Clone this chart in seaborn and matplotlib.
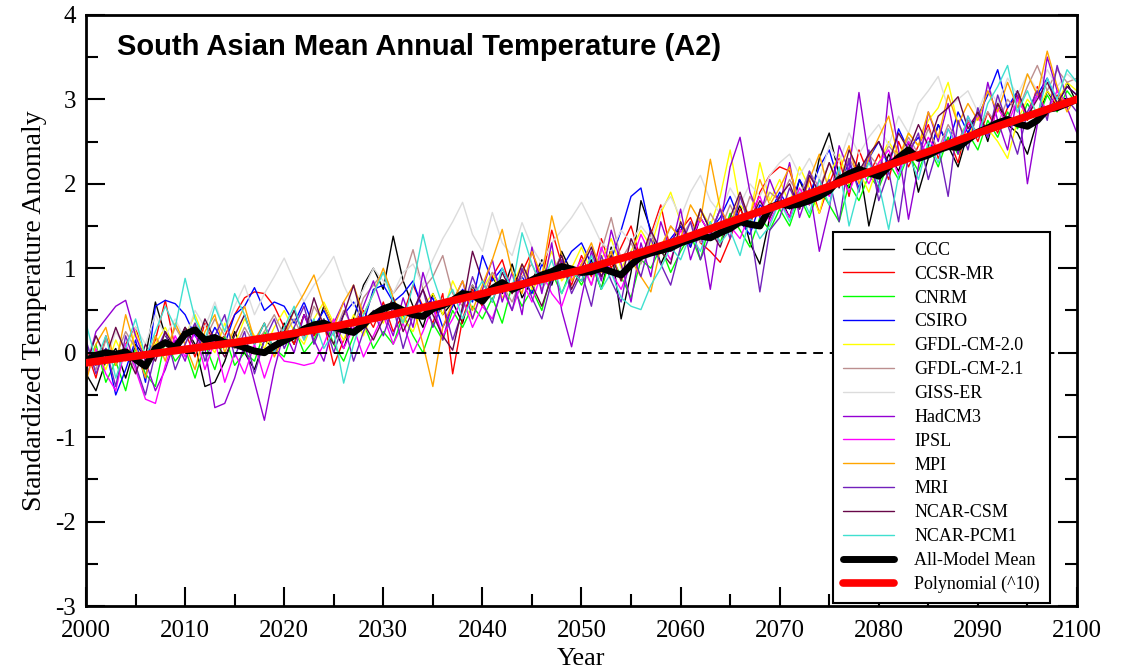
import numpy as np
import pandas as pd
import matplotlib
matplotlib.use("Agg")
import matplotlib.pyplot as plt
from matplotlib.ticker import MultipleLocator
import seaborn as sns

# ============= data =============
years = list(range(2000, 2101))
polyYears = list(range(2000, 2101, 5))

models = ["CCC", "CCSR-MR", "CNRM", "CSIRO", "GFDL-CM-2.0", "GFDL-CM-2.1", "GISS-ER",
          "HadCM3", "IPSL", "MPI", "MRI", "NCAR-CSM", "NCAR-PCM1"]
# xmgrace default colour map
modelColors = ["#000000", "#ff0000", "#00ff00", "#0000ff", "#ffff00", "#bc8f8f", "#dcdcdc",
               "#9400d3", "#ff00ff", "#ffa500", "#7221bc", "#670748", "#40e0d0"]

ccc = [-0.25, -0.45, -0.10, 0.05, -0.30, 0.10, -0.05, 0.60, 0.20, 0.05,
       0.30, 0.10, -0.40, -0.35, -0.10, 0.25, 0.00, -0.20, 0.15, 0.05,
       0.35, 0.10, 0.45, 0.20, 0.55, 0.30, 0.05, 0.40, 0.80, 1.00,
       0.75, 1.38, 0.85, 0.55, 0.30, 0.70, 0.45, 0.60, 0.35, 0.80,
       0.55, 0.90, 0.70, 1.05, 0.65, 0.85, 1.10, 0.80, 1.20, 0.95,
       0.85, 1.10, 0.75, 1.25, 0.40, 0.95, 1.80, 1.45, 1.05, 1.30,
       1.50, 1.25, 1.60, 1.40, 1.70, 1.45, 1.75, 1.30, 1.05, 1.60,
       1.85, 1.60, 2.05, 1.75, 2.30, 2.60, 2.10, 1.95, 2.25, 1.50,
       2.00, 2.35, 2.15, 2.50, 1.90, 2.30, 2.70, 2.45, 2.20, 2.60,
       2.85, 2.50, 2.95, 2.70, 2.60, 2.35, 2.75, 3.10, 2.90, 3.20,
       2.95]
ccsr = [0.05, -0.30, 0.20, -0.15, 0.10, 0.30, -0.10, 0.15, 0.62, 0.05,
        0.25, -0.05, 0.35, 0.10, 0.20, 0.45, 0.65, 0.72, 0.70, 0.55,
        0.30, 0.10, 0.45, 0.20, 0.35, -0.15, 0.15, 0.35, 0.50, 0.30,
        0.60, 0.25, 0.45, 0.80, 0.55, 0.35, 0.70, -0.25, 0.40, 0.75,
        0.55, 0.90, 1.10, 0.70, 0.95, 1.20, 0.85, 1.45, 1.05, 0.80,
        1.15, 0.90, 1.35, 1.00, 1.25, 1.50, 1.10, 1.40, 1.75, 1.20,
        1.45, 1.60, 1.30, 1.20, 1.07, 1.35, 1.70, 1.50, 1.90, 2.10,
        2.20, 2.15, 1.80, 2.05, 1.65, 2.00, 2.30, 1.85, 2.40, 2.10,
        2.35, 2.05, 2.50, 2.20, 2.45, 2.70, 2.30, 2.55, 2.25, 2.75,
        2.50, 2.85, 2.60, 2.90, 3.05, 2.75, 3.15, 2.80, 3.05, 2.90,
        3.05]
cnrm = [-0.20, 0.10, -0.35, -0.10, -0.45, 0.05, -0.25, -0.40, 0.15, -0.10,
        0.05, -0.30, 0.10, -0.20, 0.20, -0.15, 0.00, -0.10, 0.25, 0.05,
        -0.05, 0.30, 0.00, 0.15, 0.40, 0.10, -0.10, 0.20, 0.35, 0.05,
        0.25, 0.10, 0.45, 0.20, 0.00, 0.35, 0.15, 0.50, 0.30, 0.55,
        0.40, 0.65, 0.35, 0.80, 0.55, 0.75, 0.50, 0.95, 0.70, 1.00,
        0.80, 1.05, 0.75, 1.15, 0.90, 0.65, 1.10, 1.00, 1.25, 0.95,
        1.20, 1.40, 1.10, 1.55, 1.30, 1.65, 1.45, 1.25, 1.60, 1.45,
        1.70, 1.50, 1.85, 1.60, 1.95, 1.75, 1.55, 2.00, 1.80, 2.10,
        1.95, 2.25, 2.05, 2.35, 2.15, 2.45, 2.20, 2.55, 2.35, 2.60,
        2.40, 2.75, 2.55, 2.85, 2.65, 2.95, 2.75, 3.05, 2.85, 3.10,
        2.95]
csiro = [0.10, -0.15, 0.05, -0.50, -0.20, 0.15, -0.35, 0.55, 0.62, 0.58,
         0.45, 0.20, 0.05, 0.30, 0.10, 0.45, 0.55, 0.77, 0.50, 0.60,
         0.55, 0.35, 0.60, 0.30, 0.50, 0.25, 0.45, 0.60, 0.35, 0.75,
         0.80, 0.60, 0.70, 0.85, 0.50, 0.65, 0.30, 0.55, 0.75, 0.60,
         1.15, 0.85, 1.00, 0.75, 0.90, 0.70, 1.05, 0.85, 1.00, 1.20,
         1.30, 1.05, 0.90, 1.10, 1.45, 1.85, 1.95, 1.40, 1.20, 1.35,
         1.50, 1.25, 1.70, 1.45, 1.60, 1.85, 1.55, 1.40, 1.75, 1.65,
         1.90, 1.70, 2.05, 1.85, 2.20, 2.40, 2.00, 2.25, 1.95, 2.30,
         2.50, 2.20, 2.65, 2.40, 2.55, 2.30, 2.70, 2.45, 2.85, 2.60,
         2.80, 3.05, 3.35, 2.90, 3.10, 2.80, 3.05, 3.25, 2.95, 3.15,
         3.05]
gfdl20 = [-0.30, 0.05, -0.20, 0.15, -0.10, 0.25, -0.05, 0.10, 0.30, 0.05,
          0.20, 0.45, 0.15, 0.00, 0.35, 0.10, 0.40, 0.20, 0.05, 0.30,
          0.50, 0.25, 0.10, 0.40, 0.60, 0.35, 0.15, 0.45, 0.20, 0.50,
          0.35, 0.65, 0.40, 0.25, 0.55, 0.70, 0.45, 0.85, 0.60, 0.40,
          0.75, 0.95, 0.65, 0.80, 1.05, 0.75, 0.90, 1.20, 0.85, 1.00,
          1.25, 0.95, 1.10, 1.35, 1.00, 1.20, 1.45, 1.25, 1.65, 1.90,
          1.55, 1.35, 1.70, 1.50, 1.85, 2.40, 1.75, 1.60, 2.25, 1.80,
          2.05, 1.75, 2.20, 1.95, 1.65, 2.10, 2.35, 2.00, 2.15, 1.90,
          2.25, 2.50, 2.30, 2.60, 2.45, 2.75, 2.90, 3.20, 2.70, 2.55,
          2.80, 2.65, 2.50, 2.30, 2.75, 3.00, 2.85, 3.10, 2.95, 3.20,
          3.10]
gfdl21 = [0.00, -0.20, 0.15, -0.05, 0.25, 0.05, -0.15, 0.20, 0.00, 0.30,
          0.10, 0.35, 0.15, 0.40, 0.20, 0.05, 0.30, 0.10, 0.25, 0.45,
          0.20, 0.40, 0.15, 0.55, 0.35, 0.20, 0.50, 0.30, 0.65, 0.80,
          0.95, 0.70, 0.85, 1.22, 0.75, 0.90, 1.15, 0.70, 0.55, 0.80,
          0.65, 0.95, 0.80, 0.60, 0.90, 1.05, 0.75, 0.95, 1.15, 0.85,
          1.05, 0.80, 1.20, 1.60, 1.10, 1.30, 1.05, 1.40, 1.20, 1.50,
          1.35, 1.55, 1.30, 1.65, 1.45, 1.75, 1.50, 1.85, 1.65, 1.90,
          1.80, 2.05, 1.85, 2.15, 1.95, 2.25, 2.00, 2.30, 2.10, 2.35,
          2.20, 2.45, 2.30, 2.55, 2.35, 2.65, 2.40, 2.70, 2.50, 2.75,
          2.60, 2.85, 2.70, 3.00, 2.85, 3.15, 3.40, 3.10, 3.35, 3.20,
          3.25]
giss = [-0.05, 0.20, -0.10, 0.25, 0.05, 0.30, 0.10, 0.45, 0.20, 0.40,
        0.15, 0.50, 0.30, 0.60, 0.25, 0.55, 0.80, 0.45, 0.70, 0.90,
        1.12, 0.85, 0.60, 0.80, 0.95, 1.14, 0.80, 0.55, 0.75, 1.00,
        0.85, 0.70, 0.95, 1.05, 0.80, 1.10, 1.35, 1.55, 1.78, 1.40,
        1.20, 1.66, 1.30, 1.15, 1.54, 1.25, 1.05, 1.30, 1.45, 1.60,
        1.78, 1.55, 1.30, 1.20, 1.45, 1.30, 1.50, 1.35, 1.70, 1.85,
        1.60, 1.90, 2.10, 1.80, 1.65, 1.95, 1.75, 2.00, 1.85, 2.10,
        2.25, 2.35, 2.10, 2.30, 2.05, 2.45, 2.25, 2.60, 2.35, 2.55,
        2.70, 2.45, 2.80, 2.60, 2.95, 3.10, 3.27, 2.90, 3.00, 3.10,
        2.85, 3.15, 2.95, 3.25, 3.05, 3.30, 3.10, 3.35, 3.15, 3.30,
        3.20]
hadcm3 = [-0.20, 0.25, 0.40, 0.55, 0.62, 0.20, -0.10, -0.45, -0.20, 0.15,
          -0.10, 0.30, 0.05, -0.65, -0.60, -0.30, 0.10, -0.35, -0.80, -0.20,
          0.25, 0.00, 0.45, 0.15, -0.10, 0.35, 0.60, 0.20, 0.55, 0.85,
          0.50, 0.20, 0.65, 0.30, 0.95, 0.55, 0.15, 0.60, 0.85, 0.40,
          0.75, 1.10, 0.60, 0.95, 0.45, 1.25, 0.70, 1.30, 0.50, 0.07,
          0.65, 1.20, 0.85, 1.45, 1.05, 0.60, 1.30, 0.90, 1.55, 1.20,
          1.70, 1.10, 1.45, 0.75, 1.50, 2.20, 2.55, 1.90, 1.60, 2.05,
          1.75, 2.25, 1.60, 1.95, 1.20, 1.70, 2.45, 2.15, 3.08, 2.30,
          1.90, 3.08, 2.40, 1.58, 2.20, 2.85, 2.50, 2.95, 2.35, 2.80,
          2.55, 3.20, 2.75, 2.40, 3.05, 2.00, 2.70, 3.50, 3.10, 2.90,
          2.60]
ipsl = [-0.30, 0.05, -0.25, -0.45, 0.10, -0.20, -0.55, -0.60, -0.15, 0.20,
        -0.05, 0.25, -0.20, 0.15, -0.35, 0.00, -0.25, 0.10, -0.30, 0.05,
        -0.10, -0.12, -0.15, -0.12, 0.10, 0.40, 0.05, 0.30, -0.05, 0.20,
        0.45, 0.10, 0.35, 0.00, 0.25, 0.55, 0.20, 0.40, 0.65, 0.30,
        0.55, 0.40, 0.75, 0.50, 0.85, 0.60, 0.95, 0.70, 0.55, 0.90,
        1.10, 0.80, 1.25, 0.95, 0.75, 1.05, 1.40, 1.15, 1.30, 1.10,
        1.45, 1.30, 1.60, 1.40, 1.70, 1.50, 1.35, 1.65, 1.85, 1.55,
        1.80, 1.60, 1.95, 1.75, 2.05, 1.85, 2.15, 1.90, 2.20, 2.00,
        2.25, 2.40, 2.10, 2.50, 2.30, 2.55, 2.35, 2.65, 2.45, 2.70,
        2.80, 2.55, 2.90, 2.70, 3.00, 2.80, 3.05, 2.85, 3.10, 2.95,
        3.00]
mpi = [-0.35, 0.10, 0.30, -0.15, 0.45, 0.05, -0.30, 0.20, -0.10, 0.35,
       0.10, -0.20, 0.25, 0.45, 0.00, 0.30, 0.55, 0.15, 0.35, -0.05,
       0.20, 0.50, 0.70, 0.92, 0.55, 0.30, 0.60, 0.80, 0.45, 0.70,
       1.00, 0.65, 0.35, 0.55, 0.10, -0.40, 0.30, 0.60, 0.85, 0.50,
       0.80, 1.10, 1.46, 0.95, 0.70, 1.20, 0.90, 1.62, 1.15, 0.85,
       1.05, 1.30, 0.95, 1.20, 0.85, 1.10, 0.90, 0.72, 1.25, 1.50,
       1.35, 1.75, 1.55, 2.29, 1.70, 1.50, 1.85, 1.60, 2.05, 1.75,
       1.95, 2.20, 1.70, 2.05, 2.35, 1.90, 2.15, 2.45, 2.00, 2.30,
       2.55, 2.80, 2.30, 2.60, 2.45, 2.85, 2.55, 3.05, 2.70, 2.95,
       2.75, 3.10, 2.85, 3.20, 2.90, 3.30, 3.05, 3.57, 3.15, 2.85,
       3.05]
mri = [0.15, -0.25, 0.05, -0.40, 0.20, -0.15, -0.50, 0.00, 0.25, -0.20,
       0.10, 0.35, -0.10, 0.20, 0.45, -0.05, 0.25, -0.25, 0.15, 0.40,
       0.05, 0.30, 0.55, 0.10, 0.40, 0.00, 0.35, -0.10, 0.25, 0.50,
       0.20, 0.55, 0.05, 0.45, 0.75, 0.30, 0.60, 0.15, 0.50, 0.90,
       0.60, 0.35, 0.80, 0.50, 1.00, 0.65, 0.40, 0.85, 1.10, 0.70,
       0.95, 0.55, 1.15, 0.85, 0.60, 1.20, 0.90, 1.35, 1.05, 0.80,
       1.25, 1.55, 1.10, 1.40, 1.70, 1.35, 1.85, 1.50, 0.72, 1.45,
       1.60, 1.95, 1.70, 2.15, 1.85, 2.05, 1.55, 2.30, 1.90, 2.40,
       1.80, 2.15, 1.55, 2.35, 2.60, 2.05, 2.45, 1.85, 2.75, 2.40,
       2.90, 2.55, 3.05, 2.70, 2.35, 2.85, 3.10, 2.75, 3.40, 3.00,
       2.85]
ncarCsm = [-0.15, 0.20, -0.05, 0.30, 0.00, -0.25, 0.10, -0.10, 0.25, 0.05,
           0.30, 0.05, 0.40, 0.15, -0.05, 0.20, 0.45, 0.10, 0.35, 0.00,
           0.25, 0.50, 0.20, 0.65, 0.30, 0.10, 0.45, 0.80, 0.35, 0.15,
           0.40, 0.65, 0.25, 0.50, 0.75, 0.45, 0.20, 0.03, 0.55, 1.20,
           0.85, 0.60, 0.95, 0.70, 1.05, 0.80, 0.55, 0.90, 1.15, 0.75,
           1.00, 1.25, 0.90, 1.15, 0.85, 1.35, 1.10, 1.45, 1.20, 1.05,
           1.55, 1.30, 1.70, 1.45, 1.25, 1.60, 1.90, 1.55, 1.80, 1.60,
           1.85, 2.00, 1.70, 2.10, 1.90, 2.25, 1.95, 2.40, 2.15, 2.35,
           2.50, 2.25, 2.60, 2.40, 2.70, 2.45, 2.80, 2.90, 3.03, 2.65,
           2.85, 2.60, 2.95, 2.75, 3.10, 2.80, 3.00, 3.20, 2.95, 3.15,
           3.05]
ncarPcm = [0.35, -0.10, 0.20, -0.30, 0.05, 0.40, -0.05, 0.25, 0.55, 0.30,
           0.88, 0.40, 0.15, 0.55, 0.25, 0.70, 0.45, 0.10, 0.35, 0.00,
           0.30, 0.55, 0.15, 0.40, 0.05, 0.25, -0.36, 0.10, 0.45, 0.70,
           0.95, 0.60, 0.35, 0.80, 1.40, 0.90, 0.55, 0.75, 0.40, 0.65,
           0.85, 0.60, 1.00, 0.75, 1.42, 1.05, 0.80, 1.10, 0.70, 0.95,
           0.85, 1.15, 0.75, 0.95, 0.65, 0.55, 0.51, 0.80, 1.00, 1.25,
           1.10, 1.40, 1.20, 1.55, 1.30, 1.45, 1.15, 1.60, 1.35, 1.50,
           1.80, 1.55, 1.90, 1.65, 2.05, 1.75, 2.20, 1.50, 1.95, 2.25,
           2.00, 1.46, 2.10, 2.35, 2.05, 2.50, 2.25, 2.65, 2.40, 2.80,
           2.55, 2.95, 3.15, 3.40, 2.85, 3.10, 2.80, 3.25, 3.00, 3.35,
           3.20]

allMean = [-0.10, -0.03, 0.00, -0.02, 0.01, -0.08, -0.16, 0.05, 0.12, 0.06,
           0.22, 0.27, 0.15, 0.18, 0.12, 0.10, 0.06, 0.02, 0.00, 0.08,
           0.14, 0.20, 0.28, 0.33, 0.35, 0.30, 0.27, 0.24, 0.33, 0.45,
           0.52, 0.56, 0.50, 0.45, 0.43, 0.52, 0.56, 0.62, 0.70, 0.68,
           0.61, 0.76, 0.83, 0.75, 0.80, 0.86, 0.92, 0.96, 1.02, 0.99,
           0.95, 0.96, 1.00, 0.96, 0.92, 1.04, 1.14, 1.18, 1.21, 1.24,
           1.30, 1.34, 1.38, 1.36, 1.42, 1.47, 1.55, 1.52, 1.50, 1.72,
           1.76, 1.74, 1.76, 1.80, 1.85, 1.92, 2.05, 2.12, 2.17, 2.13,
           2.09, 2.20, 2.31, 2.40, 2.30, 2.34, 2.40, 2.44, 2.43, 2.52,
           2.61, 2.66, 2.72, 2.76, 2.71, 2.68, 2.75, 2.88, 2.90, 2.95,
           3.00]
polyFit = [-0.12, -0.04, 0.04, 0.12, 0.21, 0.31, 0.43, 0.56, 0.70, 0.84, 0.98,
           1.15, 1.34, 1.55, 1.75, 1.97, 2.18, 2.38, 2.60, 2.80, 3.00]

modelSeries = [ccc, ccsr, cnrm, csiro, gfdl20, gfdl21, giss, hadcm3, ipsl, mpi, mri, ncarCsm, ncarPcm]

# ============= plot =============
sns.set_theme(style="ticks")
plt.rcParams["font.family"] = ["Liberation Serif", "DejaVu Serif"]
plt.rcParams["text.color"] = "black"
plt.rcParams["axes.labelcolor"] = "black"
plt.rcParams["axes.unicode_minus"] = False

fig, ax = plt.subplots(figsize=(11.23, 6.72), dpi=100)
fig.subplots_adjust(left=0.0766, right=0.959, top=0.978, bottom=0.098)

for name, vals, col in zip(models, modelSeries, modelColors):
    df = pd.DataFrame({"Year": years, "Anomaly": vals})
    sns.lineplot(data=df, x="Year", y="Anomaly", color=col, lw=1.0, label=name, ax=ax, zorder=2)

ax.axhline(0, color="black", lw=1.4, ls=(0, (5, 3.5)), zorder=2.5)

sns.lineplot(x=years, y=allMean, color="black", lw=5, label="All-Model Mean", ax=ax, zorder=3)
sns.lineplot(x=polyYears, y=polyFit, color="#ff0000", lw=5.5, label="Polynomial (^10)", ax=ax, zorder=4)

ax.set_xlim(2000, 2100)
ax.set_ylim(-3, 4)
ax.xaxis.set_major_locator(MultipleLocator(10))
ax.xaxis.set_minor_locator(MultipleLocator(5))
ax.yaxis.set_major_locator(MultipleLocator(1))
ax.yaxis.set_minor_locator(MultipleLocator(0.5))
ax.tick_params(which="both", direction="in", left=True, right=True, bottom=True, top=False,
               width=1.5, colors="black", labelcolor="black", labelsize=18)
ax.tick_params(which="major", length=14)
ax.tick_params(which="minor", length=8.5)
ax.tick_params(axis="x", which="major", pad=10)
ax.tick_params(axis="y", which="major", pad=7)
for sp in ax.spines.values():
    sp.set_linewidth(2)
    sp.set_color("black")

ax.set_xlabel("Year", fontsize=19, labelpad=4)
ax.set_ylabel("Standardized Temperature Anomaly", fontsize=20, labelpad=6)

ax.text(0.031, 0.945, "South Asian Mean Annual Temperature (A2)", transform=ax.transAxes, color="black",
        fontsize=21, fontweight="bold", family=["Liberation Sans", "DejaVu Sans"], va="center", ha="left")

leg = ax.legend(loc="lower right", bbox_to_anchor=(0.9728, 0.005), borderaxespad=0,
                fontsize=13, frameon=True, fancybox=False, framealpha=1, edgecolor="black",
                labelspacing=0.38, handlelength=2.8, handletextpad=1.15, borderpad=0.55)
leg.get_frame().set_linewidth(1.5)

fig.savefig("out.png", dpi=100)
